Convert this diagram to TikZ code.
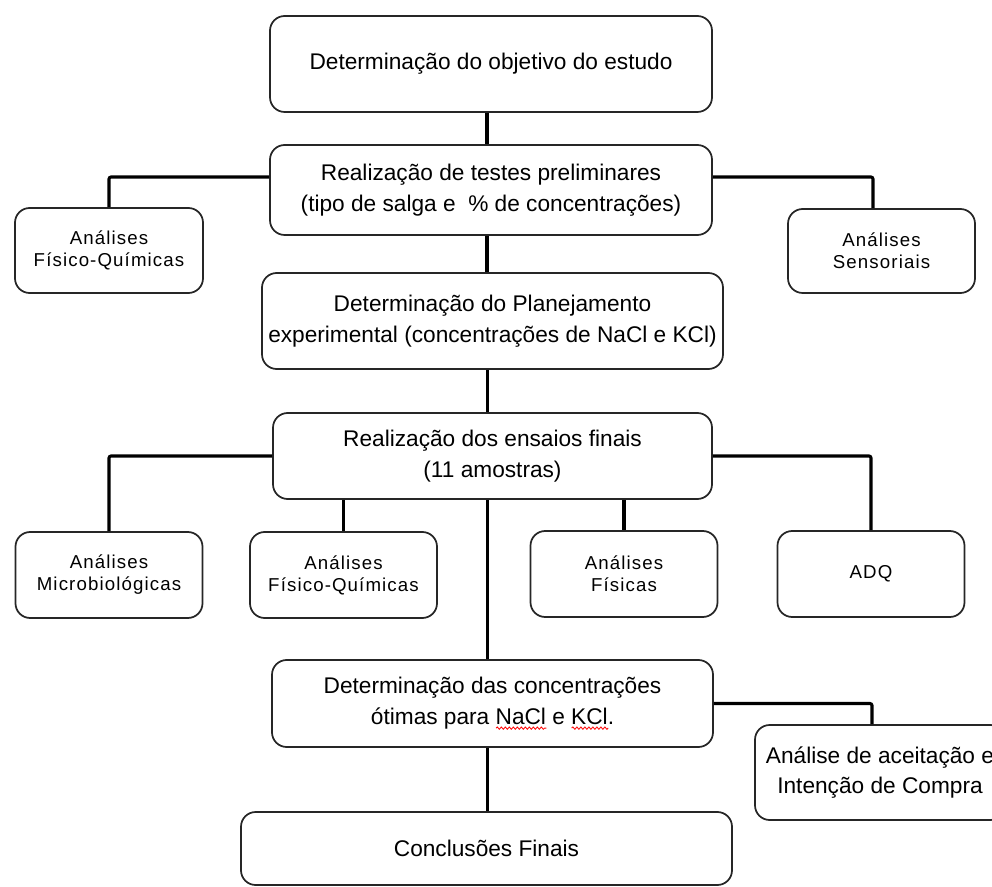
\documentclass[tikz,border=0pt]{standalone}
\usepackage{fontspec}
\setmainfont{Liberation Sans}
\newfontfamily\espacada[LetterSpace=6]{Liberation Sans}
\usetikzlibrary{decorations.pathmorphing}
\newdimen\largura
\newcommand\sublinhado[1]{\setbox0\hbox{#1}\largura=\wd0\relax\rlap{\raisebox{-4pt}{\tikz\draw[red,line width=0.6pt,sharp corners,decorate,decoration={snake,amplitude=0.9pt,segment length=3pt}] (0pt,0pt) -- (\largura,0pt);}}\box0\relax}

\begin{document}
\begin{tikzpicture}[x=0.75pt,y=-0.75pt,
  caixa/.style={draw=black!85,line width=1.3pt,rounded corners=11pt,align=center,inner sep=1pt,font=\fontsize{17}{23}\selectfont},
  caixap/.style={caixa,font=\espacada\fontsize{14}{16.5}\selectfont},
  liga/.style={line width=2.3pt,black,rounded corners=1.5pt}]
\useasboundingbox (0,0) rectangle (992,887);
% caixas principais
\node[caixa,minimum width=331.5pt,minimum height=72pt] (obj) at (491,64) {Determinação do objetivo do estudo};
\node[caixa,minimum width=331.5pt,minimum height=67.5pt] (prel) at (491,190) {Realização de testes preliminares\\(tipo de salga e \ \% de concentrações)};
\node[caixap,minimum width=141pt,minimum height=63.75pt] (fq) at (109,250.5) {Análises\\Físico-Químicas};
\node[caixap,minimum width=140.25pt,minimum height=63pt] (sens) at (881.5,251) {Análises\\Sensoriais};
\node[caixa,minimum width=345.75pt,minimum height=72pt] (plan) at (492.5,321) {Determinação do Planejamento\\experimental (concentrações de NaCl e KCl)};
\node[caixa,minimum width=329.25pt,minimum height=64.5pt] (ens) at (492.5,456) {Realização dos ensaios finais\\(11 amostras)};
% analises dos ensaios
\node[caixap,minimum width=140.25pt,minimum height=64.5pt] (micro) at (109,575) {Análises\\Microbiológicas};
\node[caixap,minimum width=140.25pt,minimum height=64.5pt] (fqb) at (343.5,575) {Análises\\Físico-Químicas};
\node[caixap,minimum width=140.25pt,minimum height=64.5pt] (fis) at (624,574) {Análises\\Físicas};
\node[caixap,minimum width=140.25pt,minimum height=64.5pt] (adq) at (871,574) {ADQ};
% parte final
\node[caixa,minimum width=330.75pt,minimum height=65.25pt] (otim) at (492.5,703.5) {Determinação das concentrações\\ótimas para \sublinhado{NaCl} e \sublinhado{KCl}.};
\node[caixa,minimum width=187.5pt,minimum height=71.25pt] (aceit) at (880,772.5) {Análise de aceitação e\\Intenção de Compra};
\node[caixa,minimum width=368.25pt,minimum height=54.75pt] (conc) at (486.5,848.5) {Conclusões Finais};
% ligacoes
\draw[liga] ([xshift=-3pt]obj.south) -- ([xshift=-3pt]obj.south |- prel.north);
\draw[liga] ([xshift=-3pt]prel.south) -- ([xshift=-3pt]prel.south |- plan.north);
\draw[liga] ([xshift=-4pt]plan.south) -- ([xshift=-4pt]plan.south |- ens.north);
\draw[liga] ([xshift=-4pt]ens.south) -- ([xshift=-4pt]ens.south |- otim.north);
\draw[liga] ([xshift=-4pt]otim.south) -- ([xshift=-4pt]otim.south |- conc.north);
\draw[liga] ([yshift=9.75pt]prel.west) -| (fq.north);
\draw[liga] ([yshift=9.75pt]prel.east) -| ([xshift=-6.4pt]sens.north);
\draw[liga] (ens.west) -| (micro.north);
\draw[liga] (ens.east) -| (adq.north);
\draw[liga] (fqb.north |- ens.south) -- (fqb.north);
\draw[liga] (fis.north |- ens.south) -- (fis.north);
\draw[liga] (otim.east) -| ([xshift=-6pt]aceit.north);
\end{tikzpicture}
\end{document}
